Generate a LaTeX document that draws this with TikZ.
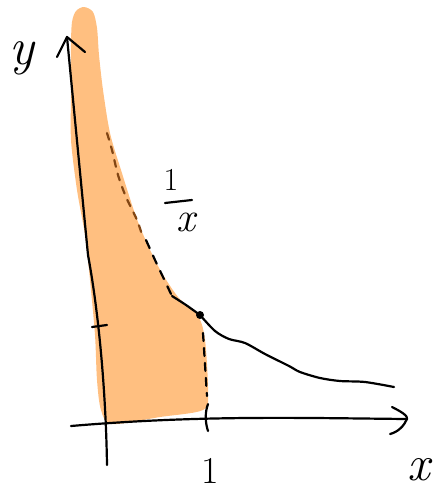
\documentclass[tikz,border=0pt]{standalone}
\begin{document}
\begin{tikzpicture}[x=1pt,y=-1pt,
  pen/.style={line width=2.2pt,line cap=round,line join=round},
  lbl/.style={inner sep=0pt}]
\definecolor{fillorange}{RGB}{255,191,128}
\definecolor{brownd}{RGB}{130,70,20}
\useasboundingbox (0,0) rectangle (438,490);
% shaded region
\fill[fillorange] plot[smooth cycle,tension=0.5] coordinates{
 (84,7) (93,12) (97,28) (99,55) (103,90) (110,133) (121,170) (138,222) (158,266) (178,297)
 (198,316) (205,340) (208,392) (203,410) (160,417) (112,424) (101,410) (97,380)
 (95,335) (90,280) (85,235) (77,190) (71,140) (71,95) (71,45) (72,22) (76,11)};
% axes
\coordinate (xs) at (71,426);
\coordinate (xe) at (407,419);
\coordinate (ys) at (107,465);
\coordinate (ye) at (67,37);
\draw[pen] (xs) .. controls (200,415) and (300,418) .. (xe);
\draw[pen] (392,407) .. controls (402,412) and (408,416) .. (xe) .. controls (404,426) and (398,432) .. (390,434);
\draw[pen] (ys) .. controls (106,400) and (100,320) .. (88,255) -- (ye);
\draw[pen] (57,57) -- (ye) -- (85,52);
% ticks
\draw[pen] (92,327) -- (107,325);
\draw[pen] (208,404) .. controls (205,412) and (205,422) .. (208,431);
% curve 1/x
\draw[pen,brownd,dash pattern=on 7pt off 7pt] plot[smooth] coordinates{(107,133) (112,150) (118,175) (126,197) (137,220) (143,238)};
\draw[pen,dash pattern=on 9pt off 8pt] plot[smooth] coordinates{(146,240) (155,260) (163,277) (171,294)};
\node[circle,fill=black,inner sep=0pt,minimum size=8pt] (p) at (200,315) {};
\draw[pen] plot[smooth] coordinates{(172,296) (186,305) (200,315)};
\draw[pen] plot[smooth] coordinates{(200,315) (215,331) (229,339) (245,343) (265,354) (289,366) (300,372) (320,378) (340,381) (365,382) (394,387)};
\draw[pen,dash pattern=on 8pt off 7pt] (203,333) -- (207,396);
% labels
\node[lbl,font=\fontsize{52}{52}\selectfont\itshape] (ly) at (22,58) {y};
\node[lbl,font=\fontsize{32}{32}\selectfont] (l1) at (171,180) {1};
\draw[pen] (165,203) -- (192,200);
\node[lbl,font=\fontsize{42}{42}\selectfont\itshape] (lx) at (186,222) {x};
\node[lbl,font=\fontsize{38}{38}\selectfont] (one) at (210,471) {1};
\node[lbl,font=\fontsize{50}{50}\selectfont\itshape] (lX) at (419,470) {x};
\end{tikzpicture}
\end{document}
